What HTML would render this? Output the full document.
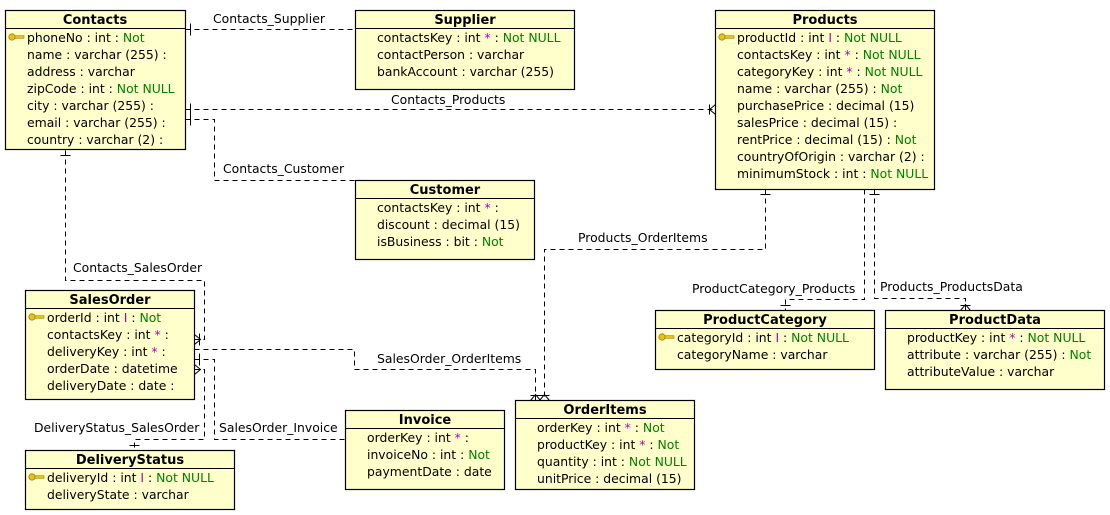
<!DOCTYPE html>
<html><head><meta charset="utf-8"><style>
html,body{margin:0;padding:0;background:#fff;}
svg{display:block;font-family:"DejaVu Sans","Liberation Sans",sans-serif;font-size:12.4px;}
.b{fill:#ffffcc;stroke:#000;stroke-width:1.2}
.t{font-weight:bold;text-anchor:middle;font-size:13px}
.g{fill:#008000}.m{fill:#b000b0}
.d{fill:none;stroke:#000;stroke-width:1;stroke-dasharray:5,4;shape-rendering:crispEdges}
.s{fill:none;stroke:#000;stroke-width:1}
</style></head><body>
<svg width="1110" height="515" viewBox="0 0 1110 515">
<defs>
<g id="key"><circle cx="4" cy="0" r="3.2" fill="#e8c020" stroke="#a08000" stroke-width="0.8"/><rect x="7" y="-1.3" width="9" height="2.6" fill="#e8c020" stroke="#a08000" stroke-width="0.6"/></g>
</defs>
<g transform="translate(0.5,0.5)">
<path class="d" d="M185 29H355"/>
<path class="d" d="M185 109H715"/>
<path class="d" d="M185 119H214V180H355"/>
<path class="d" d="M65 150V280H204V339H194"/>
<path class="d" d="M194 349H354V369H535V400"/>
<path class="d" d="M194 359H214V439H345"/>
<path class="d" d="M194 369H204V439H134V450"/>
<path class="d" d="M765 189V249H544V400"/>
<path class="d" d="M864 189V299H785V310"/>
<path class="d" d="M874 189V298H965V310"/>
<path class="s" d="M190 23V35M190 103V115M190 113V125M60 155H70M199 333V345M199 353V365M129 445H139M760 194H770M869 194H879M780 305H790"/>
<path class="s" d="M715 104L709 109L715 114M709 104V114"/>
<path class="s" d="M194 334L200 339L194 344M194 364L200 369L194 374"/>
<path class="s" d="M530 400L535 394L540 400M539 400L544 394L549 400M530 395H549"/>
<path class="s" d="M960 310L965 304L970 310M960 305H970"/>
</g>
<text x="213" y="23">Contacts_Supplier</text>
<text x="391" y="104">Contacts_Products</text>
<text x="223" y="173">Contacts_Customer</text>
<text x="73" y="272">Contacts_SalesOrder</text>
<text x="377" y="363">SalesOrder_OrderItems</text>
<text x="34" y="432">DeliveryStatus_SalesOrder</text>
<text x="219" y="432">SalesOrder_Invoice</text>
<text x="578" y="242">Products_OrderItems</text>
<text x="692" y="293">ProductCategory_Products</text>
<text x="880" y="291">Products_ProductsData</text>

<rect class="b" x="5.5" y="10.5" width="180" height="139"/><path class="s" d="M5 28.5H185"/>
<text class="t" x="95" y="24">Contacts</text>
<use href="#key" x="8" y="37"/>
<text x="27" y="42">phoneNo : int : <tspan class="g">Not</tspan></text>
<text x="27" y="59">name : varchar (255) :</text>
<text x="27" y="76">address : varchar</text>
<text x="27" y="93">zipCode : int : <tspan class="g">Not NULL</tspan></text>
<text x="27" y="110">city : varchar (255) :</text>
<text x="27" y="127">email : varchar (255) :</text>
<text x="27" y="144">country : varchar (2) :</text>

<rect class="b" x="355.5" y="10.5" width="219" height="79"/><path class="s" d="M355 28.5H574"/>
<text class="t" x="465" y="24">Supplier</text>
<text x="377" y="42">contactsKey : int <tspan class="m">*</tspan> : <tspan class="g">Not NULL</tspan></text>
<text x="377" y="59">contactPerson : varchar</text>
<text x="377" y="76">bankAccount : varchar (255)</text>

<rect class="b" x="715.5" y="10.5" width="219" height="179"/><path class="s" d="M715 28.5H934"/>
<text class="t" x="825" y="24">Products</text>
<use href="#key" x="718" y="37"/>
<text x="737" y="42">productId : int <tspan class="m">I</tspan> : <tspan class="g">Not NULL</tspan></text>
<text x="737" y="59">contactsKey : int <tspan class="m">*</tspan> : <tspan class="g">Not NULL</tspan></text>
<text x="737" y="76">categoryKey : int <tspan class="m">*</tspan> : <tspan class="g">Not NULL</tspan></text>
<text x="737" y="93">name : varchar (255) : <tspan class="g">Not</tspan></text>
<text x="737" y="110">purchasePrice : decimal (15)</text>
<text x="737" y="127">salesPrice : decimal (15) :</text>
<text x="737" y="144">rentPrice : decimal (15) : <tspan class="g">Not</tspan></text>
<text x="737" y="161">countryOfOrigin : varchar (2) :</text>
<text x="737" y="178">minimumStock : int : <tspan class="g">Not NULL</tspan></text>

<rect class="b" x="355.5" y="180.5" width="179" height="79"/><path class="s" d="M355 198.5H534"/>
<text class="t" x="445" y="194">Customer</text>
<text x="377" y="212">contactsKey : int <tspan class="m">*</tspan> :</text>
<text x="377" y="229">discount : decimal (15)</text>
<text x="377" y="246">isBusiness : bit : <tspan class="g">Not</tspan></text>

<rect class="b" x="25.5" y="290.5" width="169" height="109"/><path class="s" d="M25 308.5H194"/>
<text class="t" x="110" y="304">SalesOrder</text>
<use href="#key" x="28" y="317"/>
<text x="47" y="322">orderId : int <tspan class="m">I</tspan> : <tspan class="g">Not</tspan></text>
<text x="47" y="339">contactsKey : int <tspan class="m">*</tspan> :</text>
<text x="47" y="356">deliveryKey : int <tspan class="m">*</tspan> :</text>
<text x="47" y="373">orderDate : datetime</text>
<text x="47" y="390">deliveryDate : date :</text>

<rect class="b" x="25.5" y="450.5" width="209" height="59"/><path class="s" d="M25 468.5H234"/>
<text class="t" x="130" y="464">DeliveryStatus</text>
<use href="#key" x="28" y="477"/>
<text x="47" y="482">deliveryId : int <tspan class="m">I</tspan> : <tspan class="g">Not NULL</tspan></text>
<text x="47" y="499">deliveryState : varchar</text>

<rect class="b" x="345.5" y="410.5" width="159" height="79"/><path class="s" d="M345 428.5H504"/>
<text class="t" x="425" y="424">Invoice</text>
<text x="367" y="442">orderKey : int <tspan class="m">*</tspan> :</text>
<text x="367" y="459">invoiceNo : int : <tspan class="g">Not</tspan></text>
<text x="367" y="476">paymentDate : date</text>

<rect class="b" x="515.5" y="400.5" width="179" height="89"/><path class="s" d="M515 418.5H694"/>
<text class="t" x="605" y="414">OrderItems</text>
<text x="537" y="432">orderKey : int <tspan class="m">*</tspan> : <tspan class="g">Not</tspan></text>
<text x="537" y="449">productKey : int <tspan class="m">*</tspan> : <tspan class="g">Not</tspan></text>
<text x="537" y="466">quantity : int : <tspan class="g">Not NULL</tspan></text>
<text x="537" y="483">unitPrice : decimal (15)</text>

<rect class="b" x="655.5" y="310.5" width="219" height="59"/><path class="s" d="M655 328.5H874"/>
<text class="t" x="765" y="324">ProductCategory</text>
<use href="#key" x="658" y="337"/>
<text x="677" y="342">categoryId : int <tspan class="m">I</tspan> : <tspan class="g">Not NULL</tspan></text>
<text x="677" y="359">categoryName : varchar</text>

<rect class="b" x="885.5" y="310.5" width="219" height="79"/><path class="s" d="M885 328.5H1104"/>
<text class="t" x="995" y="324">ProductData</text>
<text x="907" y="342">productKey : int <tspan class="m">*</tspan> : <tspan class="g">Not NULL</tspan></text>
<text x="907" y="359">attribute : varchar (255) : <tspan class="g">Not</tspan></text>
<text x="907" y="376">attributeValue : varchar</text>
</svg>
</body></html>
